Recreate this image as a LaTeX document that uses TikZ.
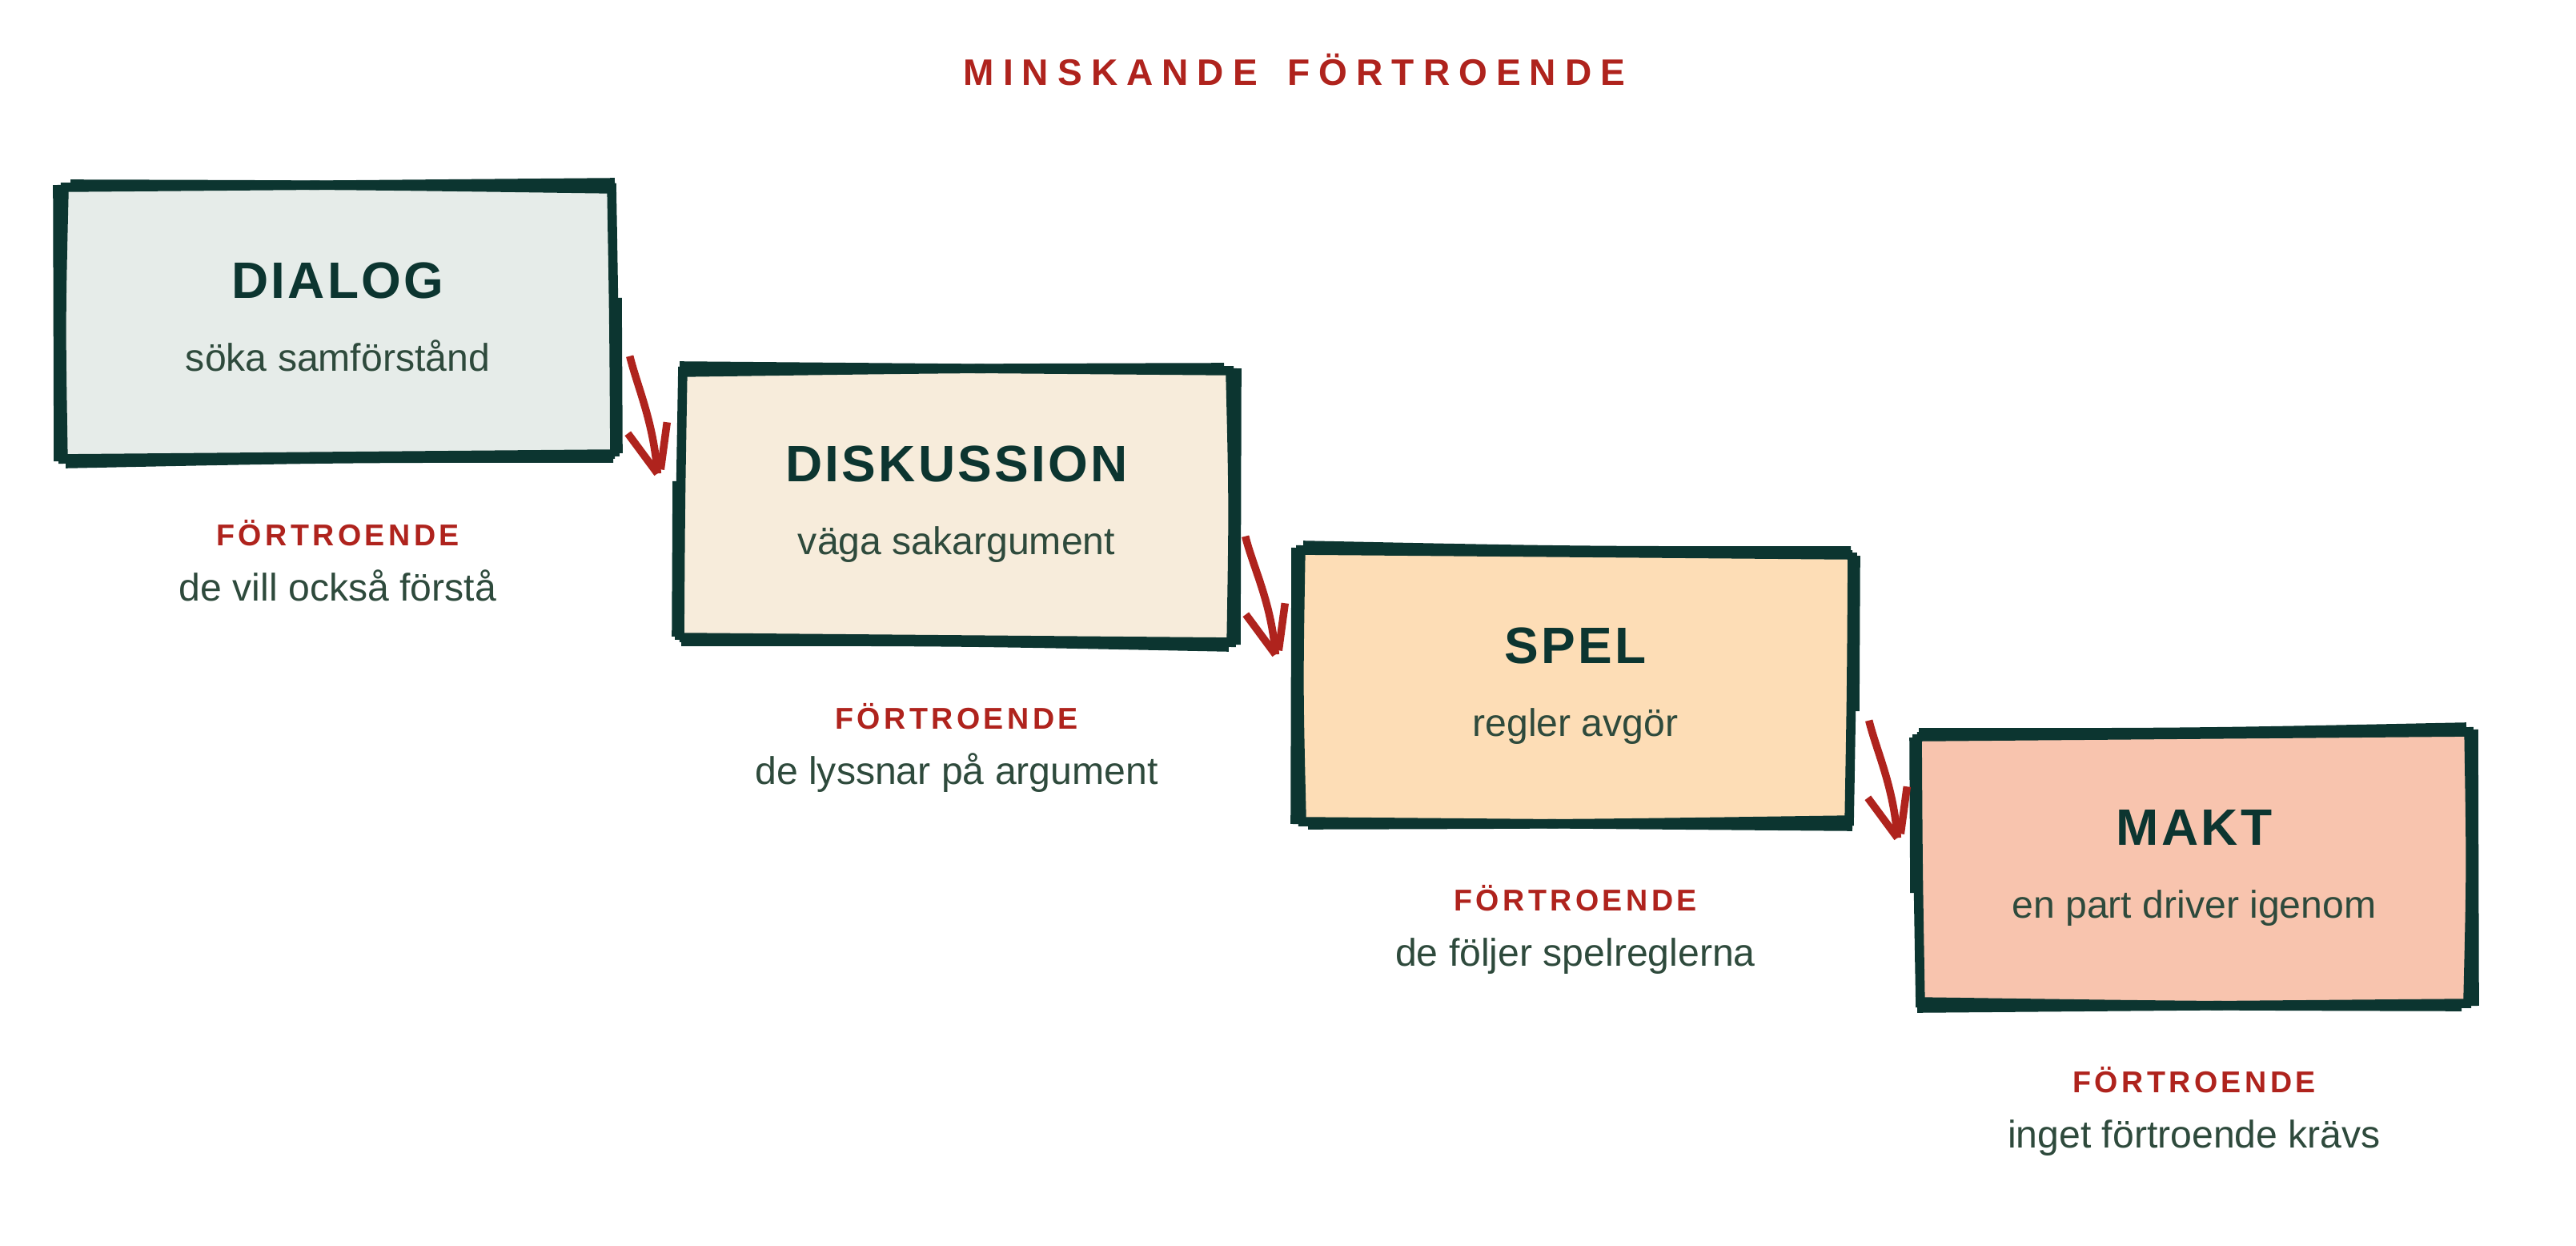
\documentclass[tikz,border=0pt]{standalone}
\usepackage{fontspec}
\setmainfont{Liberation Sans}
\usetikzlibrary{calc}
\definecolor{ink}{HTML}{0C3530}
\definecolor{subink}{HTML}{2E4A3C}
\definecolor{accent}{HTML}{AF231D}
\definecolor{fillA}{HTML}{E6ECE9}
\definecolor{fillB}{HTML}{F7ECDB}
\definecolor{fillC}{HTML}{FDDDB6}
\definecolor{fillD}{HTML}{F8C4AE}
\tikzset{
  stagebox/.style={rectangle, minimum width=6.88cm, minimum height=3.38cm, inner sep=0pt, draw=none},
  edgeline/.style={draw=ink, line width=3.3pt, line cap=butt},
  flowline/.style={draw=accent, line width=2.7pt, line cap=butt, line join=round},
  stagetitle/.style={anchor=base, inner sep=0pt, text=ink, font=\bfseries\fontsize{18.2}{22}\selectfont\addfontfeature{LetterSpace=5}},
  stagesub/.style={anchor=base, inner sep=0pt, text=subink, font=\fontsize{13.7}{17}\selectfont},
  trustlabel/.style={anchor=base, inner sep=0pt, text=accent, font=\bfseries\fontsize{10.7}{13}\selectfont\addfontfeature{LetterSpace=12}},
  trustdesc/.style={anchor=base, inner sep=0pt, text=subink, font=\fontsize{13.7}{17}\selectfont},
  headline/.style={anchor=base, inner sep=0pt, text=accent, font=\bfseries\fontsize{13.1}{16}\selectfont\addfontfeature{LetterSpace=24}},
}
\newcommand\roughframe[2]{%
  \begin{scope}[shift={(#1.center)},#2]
    \draw[edgeline] (-3.46,1.68) -- (3.46,1.74);
    \draw[edgeline] (-3.34,1.72) .. controls (0,1.71) .. (3.47,1.66);
    \draw[edgeline] (-3.50,1.71) -- (-3.49,-1.74);
    \draw[edgeline] (-3.42,1.66) .. controls (-3.46,0) .. (-3.43,-1.77);
    \draw[edgeline] (3.42,1.73) .. controls (3.45,0) .. (3.46,-1.68);
    \draw[edgeline] (3.49,0.30) -- (3.50,-1.64);
    \draw[edgeline] (-3.48,-1.71) -- (3.46,-1.65);
    \draw[edgeline] (-3.40,-1.77) .. controls (0,-1.70) .. (3.44,-1.70);
  \end{scope}}
\newcommand\roughflow[2]{%
  \draw[flowline] (#1) .. controls +(0.10,-0.40) and +(-0.05,0.65) .. (#2);
  \draw[flowline] ($(#2)+(-0.37,0.50)$) -- (#2);
  \draw[flowline] ($(#2)+(0.12,0.64)$) -- ($(#2)+(0.04,0.05)$);}
\begin{document}
\begin{tikzpicture}
  \fill[white] (0,0) rectangle (32.18,-15.56);
  \useasboundingbox (0,0) rectangle (32.18,-15.56);

  \node[headline] (head) at (16.17,-1.07) {MINSKANDE\ \hspace{0.3em}FÖRTROENDE};

  \node[stagebox, fill=fillA] (b1) at (4.22,-4.02) {};
  \node[stagebox, fill=fillB] (b2) at (11.95,-6.31) {};
  \node[stagebox, fill=fillC] (b3) at (19.68,-8.58) {};
  \node[stagebox, fill=fillD] (b4) at (27.41,-10.85) {};

  \roughframe{b1}{}
  \roughframe{b2}{xscale=-1}
  \roughframe{b3}{yscale=-1}
  \roughframe{b4}{xscale=-1,yscale=-1}

  \node[stagetitle] (t1) at ($(b1.center)+(0,0.30)$) {DIALOG};
  \node[stagesub]   (s1) at ($(b1.center)+(0,-0.61)$) {söka samförstånd};
  \node[stagetitle] (t2) at ($(b2.center)+(0,0.30)$) {DISKUSSION};
  \node[stagesub]   (s2) at ($(b2.center)+(0,-0.61)$) {väga sakargument};
  \node[stagetitle] (t3) at ($(b3.center)+(0,0.30)$) {SPEL};
  \node[stagesub]   (s3) at ($(b3.center)+(0,-0.61)$) {regler avgör};
  \node[stagetitle] (t4) at ($(b4.center)+(0,0.30)$) {MAKT};
  \node[stagesub]   (s4) at ($(b4.center)+(0,-0.61)$) {en part driver igenom};

  \node[trustlabel] (l1) at ($(b1.center)+(0,-2.79)$) {FÖRTROENDE};
  \node[trustdesc]  (d1) at ($(b1.center)+(0,-3.48)$) {de vill också förstå};
  \node[trustlabel] (l2) at ($(b2.center)+(0,-2.79)$) {FÖRTROENDE};
  \node[trustdesc]  (d2) at ($(b2.center)+(0,-3.48)$) {de lyssnar på argument};
  \node[trustlabel] (l3) at ($(b3.center)+(0,-2.79)$) {FÖRTROENDE};
  \node[trustdesc]  (d3) at ($(b3.center)+(0,-3.48)$) {de följer spelreglerna};
  \node[trustlabel] (l4) at ($(b4.center)+(0,-2.79)$) {FÖRTROENDE};
  \node[trustdesc]  (d4) at ($(b4.center)+(0,-3.48)$) {inget förtroende krävs};

  \coordinate (a1s) at ($(b1.south east)+(0.20,1.27)$);
  \coordinate (a1e) at ($(b2.north west)+(-0.29,-1.30)$);
  \coordinate (a2s) at ($(b2.south east)+(0.16,1.31)$);
  \coordinate (a2e) at ($(b3.north west)+(-0.30,-1.29)$);
  \coordinate (a3s) at ($(b3.south east)+(0.22,1.28)$);
  \coordinate (a3e) at ($(b4.north west)+(-0.26,-1.31)$);
  \roughflow{a1s}{a1e}
  \roughflow{a2s}{a2e}
  \roughflow{a3s}{a3e}
\end{tikzpicture}
\end{document}
